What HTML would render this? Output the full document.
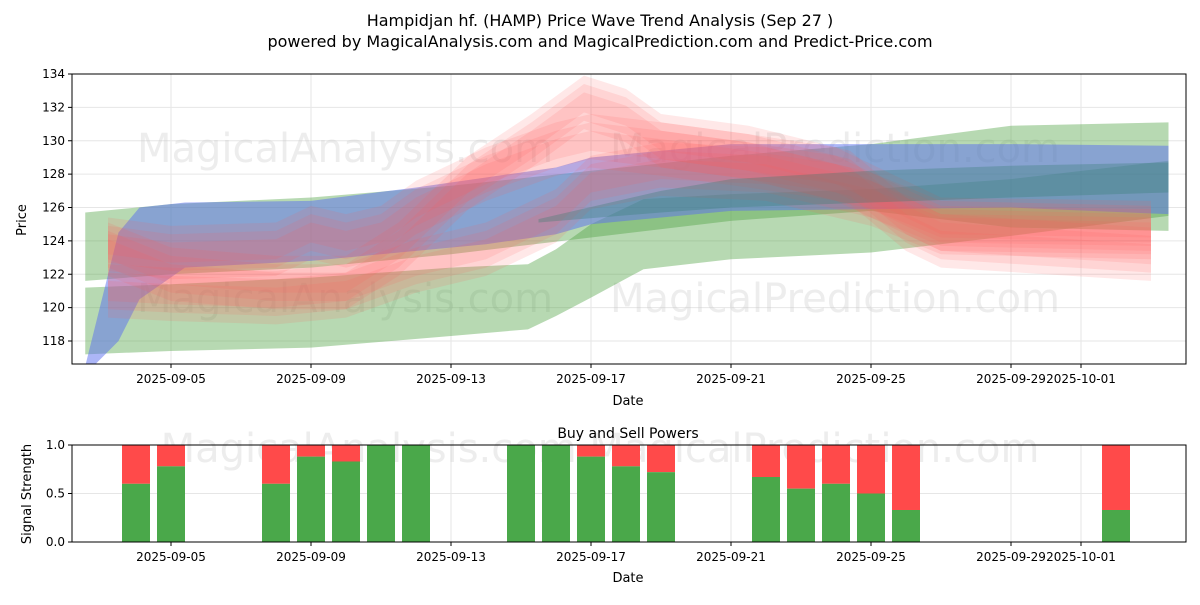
<!DOCTYPE html>
<html><head><meta charset="utf-8">
<style>
body{margin:0;background:#fff;font-family:"Liberation Sans",sans-serif;}
svg text{font-family:"DejaVu Sans","Liberation Sans",sans-serif;}
</style></head>
<body>
<svg id="c" width="1200" height="600" xmlns="http://www.w3.org/2000/svg">
<defs><clipPath id="cp1"><rect x="72" y="74" width="1114" height="290"/></clipPath></defs>
<text x="600" y="26" text-anchor="middle" font-size="16">Hampidjan hf. (HAMP) Price Wave Trend Analysis (Sep 27 )</text>
<text x="600" y="47" text-anchor="middle" font-size="16">powered by MagicalAnalysis.com and MagicalPrediction.com and Predict-Price.com</text>
<g id="topg"></g>
<g id="bot"></g>
</svg>
<script>
// day offsets from 2025-09-05
const tickDays=[0,4,8,12,16,20,24,26];
const tickLabels=["2025-09-05","2025-09-09","2025-09-13","2025-09-17","2025-09-21","2025-09-25","2025-09-29","2025-10-01"];
const priceTicks=[118,120,122,124,126,128,130,132,134];
const gA_days=[-2.45,0,4,8,12,16,20,24,28.5];
const gA_up=[125.7,126.2,126.6,127.3,128.2,129.1,129.8,130.9,131.1];
const gA_lo=[121.6,122.0,122.4,123.2,124.2,125.2,125.8,124.8,124.6];
const gB_days=[-2.45,0,4,8,10.2,11,12,13.5,16,20,24,28.5];
const gB_up=[121.2,121.4,121.8,122.4,122.6,123.5,125,126.5,126.8,127.1,127.7,128.8];
const gB_lo=[117.2,117.4,117.6,118.3,118.7,119.5,120.6,122.3,122.9,123.3,124.3,125.5];
const bl_days=[-2.45,-1.5,-0.9,0.4,4,7,9,11,12,16,20,24,28.5];
const bl_up=[116.5,124.5,126.0,126.3,126.4,127.2,127.8,128.4,129.0,129.8,129.8,129.8,129.7];
const bl_lo=[116.0,118.0,120.5,122.4,122.8,123.4,123.8,124.4,125.0,125.8,125.9,126.0,125.6];
const tl_days=[10.5,14,16,20,24,28.5];
const tl_up=[125.3,127.0,127.7,128.2,128.5,128.7];
const tl_lo=[125.1,125.7,126.0,126.3,126.6,126.9];
const r1_days=[-1.8,0,3,5,6.5,8.5,10.3,11.8,13,14,16.5,19.4,21,22,28];
const r1_mid=[123.5,122,121.5,121.5,123.5,127.5,130,132.3,131.5,130,129.3,127.8,125,124,123.2];
const r2_days=[-1.8,0,3,4,5,6,7,9,11,12,14,16.5,19,21,22,28];
const r2_mid=[123.8,123.3,123.5,124.5,124,124.5,126,128,129.5,130,129.5,128.8,128,126,125,124.8];
const r3_days=[-1.8,0,3,5,7,9,11,12,14,17,20,22,28];
const r3_mid=[121,120.8,120.6,121,122.5,123.5,125.5,127.5,128.3,128,126.5,124.8,124.5];
const barDays=[-1,0,3,4,5,6,7,10,11,12,13,14,17,18,19,20,21,27];
const buyVals=[0.6,0.78,0.6,0.88,0.83,1,1,1,1,0.88,0.78,0.72,0.67,0.55,0.6,0.5,0.33,0.33];

const NS="http://www.w3.org/2000/svg";
const L=72,R=1186,T1=74,B1=364,T2=445,B2=542;
const X=d=>171+35*d;
const Y=p=>341-(p-118)*(267/16);
const Y2=v=>B2-v*(B2-T2);
function mk(tag,attrs,parent,txt){const e=document.createElementNS(NS,tag);for(const k in attrs)e.setAttribute(k,attrs[k]);if(txt!==undefined)e.textContent=txt;parent.appendChild(e);return e;}
const topG=document.getElementById('topg'),bot=document.getElementById('bot');
tickDays.forEach(d=>{mk('line',{x1:X(d),x2:X(d),y1:T1,y2:B1,stroke:'#e6e6e6'},topG);mk('line',{x1:X(d),x2:X(d),y1:T2,y2:B2,stroke:'#e6e6e6'},bot);});
priceTicks.forEach(p=>{if(Y(p)>=T1-1)mk('line',{x1:L,x2:R,y1:Y(p),y2:Y(p),stroke:'#e6e6e6'},topG);});
[0,0.5,1].forEach(v=>mk('line',{x1:L,x2:R,y1:Y2(v),y2:Y2(v),stroke:'#e6e6e6'},bot));
[[345,162],[835,162],[345,312],[835,312]].forEach((w,i)=>{const t=mk('text',{x:w[0],y:w[1],'text-anchor':'middle','font-size':40,fill:'#ccc','fill-opacity':0.35},topG,i%2?'MagicalPrediction.com':'MagicalAnalysis.com');});
const g=mk('g',{'clip-path':'url(#cp1)'},topG);
function band(days,up,lo,color,op,name){
  let pts=days.map((d,i)=>X(d)+','+Y(up[i]));
  for(let i=days.length-1;i>=0;i--)pts.push(X(days[i])+','+Y(lo[i]));
  const p=mk('polygon',{points:pts.join(' '),fill:color,'fill-opacity':op},g);
  
  
}
band(gA_days,gA_up,gA_lo,'#4a9f3e',0.4,'green-band-upper');
band(gB_days,gB_up,gB_lo,'#4a9f3e',0.4,'green-band-lower');
band(bl_days,bl_up,bl_lo,'#5a6ef0',0.5,'blue-band');
function redBand(days,mid,name){
  [1.6,1.1,0.6].forEach(w=>{
    band(days,mid.map(v=>v+w),mid.map(v=>v-w),'#ff5a5a',0.14,name);
  });
}
redBand(r3_days,r3_mid,'red-band-low');
redBand(r1_days,r1_mid,'red-band-peak');
redBand(r2_days,r2_mid,'red-band-mid');
band(tl_days,tl_up,tl_lo,'#2e7a6a',0.3,'teal-band');
mk('rect',{x:L,y:T1,width:R-L,height:B1-T1,fill:'none',stroke:'#000'},topG);
priceTicks.forEach(p=>{const y=Y(p);mk('line',{x1:L-4,x2:L,y1:y,y2:y,stroke:'#000'},topG);mk('text',{x:L-7,y:y+4,'text-anchor':'end','font-size':12},topG,String(p));});
tickDays.forEach((d,i)=>{mk('line',{x1:X(d),x2:X(d),y1:B1,y2:B1+4,stroke:'#000'},topG);mk('text',{x:X(d),y:B1+19,'text-anchor':'middle','font-size':12},topG,tickLabels[i]);});
mk('text',{x:628,y:405,'text-anchor':'middle','font-size':13},topG,'Date');
mk('text',{x:26,y:220,'text-anchor':'middle','font-size':13,transform:'rotate(-90 26 220)'},topG,'Price');
const wm=mk('text',{x:600,y:462,'text-anchor':'middle','font-size':40,fill:'#ccc','fill-opacity':0.35},bot,'MagicalAnalysis.com        MagicalPrediction.com');

barDays.forEach((d,i)=>{
  const x=X(d)-14,v=buyVals[i];
  const s=mk('rect',{x:x,y:Y2(1),width:28,height:Y2(v)-Y2(1),fill:'#ff4a4a'},bot);
  
  
  const b=mk('rect',{x:x,y:Y2(v),width:28,height:B2-Y2(v),fill:'#4aa84a'},bot);
  
  
});
mk('rect',{x:L,y:T2,width:R-L,height:B2-T2,fill:'none',stroke:'#000'},bot);
[[0,'0.0'],[0.5,'0.5'],[1,'1.0']].forEach(a=>{const y=Y2(a[0]);mk('line',{x1:L-4,x2:L,y1:y,y2:y,stroke:'#000'},bot);mk('text',{x:L-7,y:y+4,'text-anchor':'end','font-size':12},bot,a[1]);});
tickDays.forEach((d,i)=>{mk('line',{x1:X(d),x2:X(d),y1:B2,y2:B2+4,stroke:'#000'},bot);mk('text',{x:X(d),y:B2+19,'text-anchor':'middle','font-size':12},bot,tickLabels[i]);});
mk('text',{x:628,y:438,'text-anchor':'middle','font-size':14},bot,'Buy and Sell Powers');
mk('text',{x:628,y:582,'text-anchor':'middle','font-size':13},bot,'Date');
mk('text',{x:31,y:494,'text-anchor':'middle','font-size':13,transform:'rotate(-90 31 494)'},bot,'Signal Strength');
</script>
</body></html>
